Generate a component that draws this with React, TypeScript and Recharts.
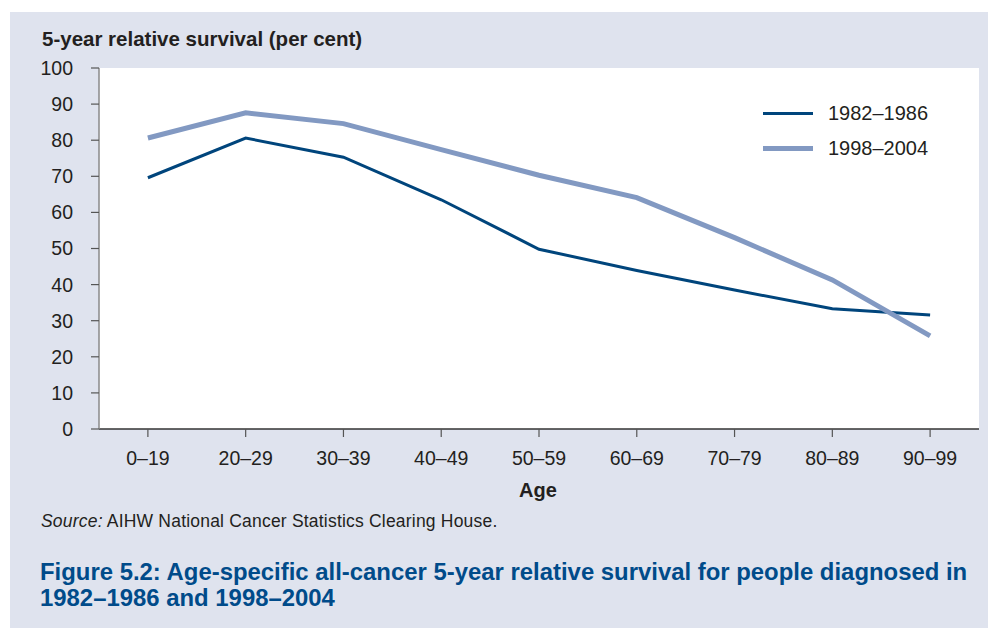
import React from 'react';
import { LineChart, Line, XAxis, YAxis, Legend } from 'recharts';

const ageGroups = ['0–19', '20–29', '30–39', '40–49', '50–59', '60–69', '70–79', '80–89', '90–99'];
const survival1982 = [69.6, 80.6, 75.3, 63.5, 49.8, 43.9, 38.5, 33.3, 31.6];
const survival1998 = [80.6, 87.6, 84.6, 77.4, 70.3, 64.1, 53.0, 41.3, 25.8];
const yTicks = [0, 10, 20, 30, 40, 50, 60, 70, 80, 90, 100];

const seriesInfo = [
  { key: 'p1982', name: '1982–1986', color: '#00457c', width: 3 },
  { key: 'p1998', name: '1998–2004', color: '#8299c2', width: 5 },
];

const FONT = '"Liberation Sans", Arial, Helvetica, sans-serif';
const TEXT = '#231f20';

const data = ageGroups.map((age, i) => ({
  age,
  p1982: survival1982[i],
  p1998: survival1998[i],
}));

const LegendBox = () => (
  <div style={{ fontFamily: FONT }}>
    {seriesInfo.map((s) => (
      <div key={s.key} style={{ display: 'flex', alignItems: 'center', height: 35 }}>
        <span style={{ display: 'inline-block', width: 50, height: s.width, background: s.color, marginRight: 15 }} />
        <span style={{ fontSize: 20, color: TEXT }}>{s.name}</span>
      </div>
    ))}
  </div>
);

export default function App() {
  return (
    <div style={{ position: 'absolute', left: 0, top: 0, width: 995, height: 628, background: '#fff', overflow: 'hidden', fontFamily: FONT }}>
      <div style={{ position: 'absolute', left: 10, top: 12, width: 978, height: 616, background: '#dfe3ee' }} />
      <div style={{ position: 'absolute', left: 99, top: 68, width: 880, height: 361, background: '#fff' }} />
      <div style={{ position: 'absolute', left: 42, top: 29, fontSize: 20.5, lineHeight: '20px', fontWeight: 'bold', color: TEXT, whiteSpace: 'nowrap' }}>
        5-year relative survival (per cent)
      </div>
      <div style={{ position: 'absolute', left: 0, top: 0 }}>
        <LineChart width={995} height={470} data={data} margin={{ top: 68, right: 16, bottom: 11, left: 0 }}>
          <XAxis
            dataKey="age"
            scale="band"
            height={30}
            tickSize={8}
            tickMargin={14}
            axisLine={{ stroke: '#333', strokeWidth: 1.5 }}
            tickLine={{ stroke: '#555', strokeWidth: 1.2 }}
            tick={{ fill: TEXT, fontSize: 19.5, fontFamily: FONT }}
            interval={0}
          />
          <YAxis
            type="number"
            domain={[0, 100]}
            ticks={yTicks}
            width={99}
            tickSize={8}
            tickMargin={18}
            axisLine={{ stroke: '#8a8a8a', strokeWidth: 1.5 }}
            tickLine={{ stroke: '#555', strokeWidth: 1.2 }}
            tick={{ fill: TEXT, fontSize: 19.5, fontFamily: FONT }}
            interval={0}
          />
          {seriesInfo.map((s) => (
            <Line
              key={s.key}
              type="linear"
              dataKey={s.key}
              name={s.name}
              stroke={s.color}
              strokeWidth={s.width}
              dot={false}
              activeDot={false}
              isAnimationActive={false}
            />
          ))}
          <Legend
            layout="vertical"
            align="center"
            verticalAlign="middle"
            content={<LegendBox />}
            wrapperStyle={{ position: 'absolute', left: 763, top: 95.5, width: 200 }}
          />
        </LineChart>
      </div>
      <div style={{ position: 'absolute', left: 438, top: 480, width: 200, textAlign: 'center', fontSize: 20, lineHeight: '20px', fontWeight: 'bold', color: TEXT }}>
        Age
      </div>
      <div style={{ position: 'absolute', left: 41, top: 512.5, fontSize: 17.5, lineHeight: '16px', letterSpacing: 0.2, color: TEXT, whiteSpace: 'nowrap' }}>
        <i>Source:</i> AIHW National Cancer Statistics Clearing House.
      </div>
      <div style={{ position: 'absolute', left: 40, top: 559, fontSize: 23.9, lineHeight: '26px', fontWeight: 'bold', color: '#004b8a', whiteSpace: 'nowrap' }}>
        Figure 5.2: Age-specific all-cancer 5-year relative survival for people diagnosed in
        <br />
        1982–1986 and 1998–2004
      </div>
    </div>
  );
}
